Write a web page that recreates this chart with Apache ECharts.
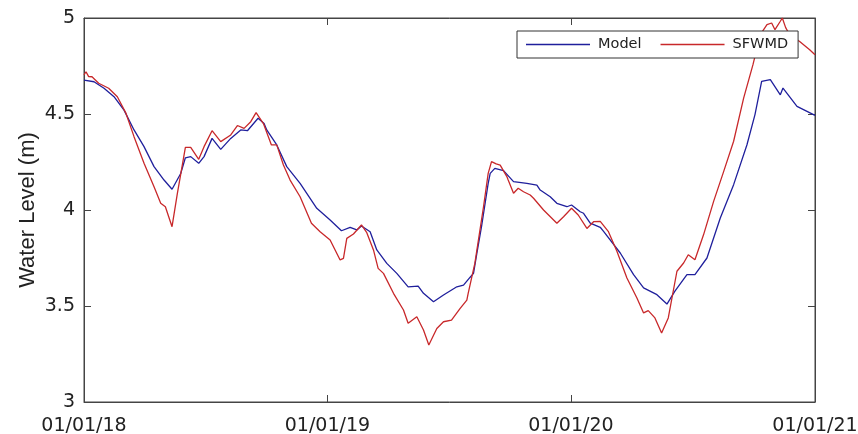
<!DOCTYPE html>
<html>
<head>
<meta charset="utf-8">
<title>Water Level: Model vs SFWMD</title>
<script src="https://cdn.jsdelivr.net/npm/echarts@6/dist/echarts.min.js"></script>
<style>
  html, body { margin: 0; padding: 0; background: #fff; }
  #chart { width: 858px; height: 434px; }
</style>
</head>
<body>
<div id="chart"></div>
<script>
// Series start date; x values below are days elapsed since this date.
const startYear = 2018;

// Simulated water level (Model)
const modelDay = [0, 15, 30, 45, 60, 75, 90, 105, 120, 132, 145, 152, 160, 172, 180, 192, 205, 220, 235, 245, 261, 270, 274, 289, 304, 324, 349, 369, 386, 399, 409, 416, 429, 439, 454, 469, 486, 501, 509, 524, 539, 559, 569, 579, 584, 589, 596, 606, 609, 616, 629, 644, 664, 679, 684, 699, 709, 724, 731, 744, 749, 759, 774, 779, 804, 824, 839, 859, 874, 886, 904, 916, 934, 954, 974, 994, 1006, 1016, 1029, 1044, 1048, 1069, 1084, 1096];
const modelLevel = [4.677, 4.668, 4.634, 4.59, 4.52, 4.417, 4.33, 4.226, 4.156, 4.108, 4.19, 4.272, 4.278, 4.243, 4.278, 4.373, 4.316, 4.373, 4.417, 4.413, 4.478, 4.45, 4.417, 4.339, 4.226, 4.139, 4.009, 3.948, 3.892, 3.91, 3.896, 3.917, 3.887, 3.792, 3.722, 3.67, 3.6, 3.604, 3.566, 3.522, 3.557, 3.6, 3.609, 3.65, 3.67, 3.774, 3.913, 4.139, 4.191, 4.217, 4.205, 4.148, 4.139, 4.13, 4.104, 4.069, 4.035, 4.017, 4.026, 3.991, 3.983, 3.932, 3.91, 3.889, 3.776, 3.663, 3.594, 3.559, 3.51, 3.577, 3.663, 3.663, 3.75, 3.958, 4.132, 4.34, 4.497, 4.67, 4.679, 4.6, 4.635, 4.54, 4.514, 4.493];

// Observed water level (SFWMD)
const obsDay = [0, 3, 7, 12, 22, 37, 50, 63, 75, 90, 105, 115, 122, 132, 140, 147, 152, 160, 172, 180, 192, 205, 220, 230, 240, 250, 258, 269, 281, 289, 299, 309, 324, 341, 354, 369, 384, 389, 394, 404, 416, 424, 434, 441, 449, 464, 479, 486, 499, 509, 517, 529, 539, 551, 564, 574, 576, 586, 599, 606, 611, 618, 624, 634, 636, 644, 651, 659, 669, 674, 689, 709, 719, 731, 741, 754, 764, 774, 786, 799, 814, 829, 839, 846, 856, 866, 876, 889, 899, 906, 916, 929, 944, 959, 974, 989, 1003, 1014, 1024, 1031, 1036, 1044, 1047, 1052, 1058, 1073, 1088, 1096];
const obsLevel = [4.703, 4.72, 4.695, 4.694, 4.66, 4.634, 4.59, 4.503, 4.382, 4.243, 4.121, 4.035, 4.017, 3.913, 4.087, 4.226, 4.326, 4.326, 4.264, 4.33, 4.413, 4.356, 4.391, 4.44, 4.425, 4.46, 4.507, 4.45, 4.339, 4.339, 4.234, 4.156, 4.069, 3.931, 3.887, 3.844, 3.74, 3.748, 3.852, 3.875, 3.922, 3.882, 3.792, 3.696, 3.67, 3.566, 3.479, 3.41, 3.444, 3.375, 3.297, 3.383, 3.418, 3.427, 3.488, 3.531, 3.566, 3.722, 4.017, 4.191, 4.252, 4.24, 4.234, 4.174, 4.156, 4.087, 4.113, 4.095, 4.078, 4.061, 4.0, 3.931, 3.965, 4.009, 3.974, 3.904, 3.939, 3.941, 3.889, 3.785, 3.646, 3.542, 3.464, 3.476, 3.438, 3.359, 3.438, 3.681, 3.724, 3.767, 3.741, 3.872, 4.045, 4.2, 4.358, 4.583, 4.757, 4.913, 4.965, 4.974, 4.939, 4.983, 5.0, 4.95, 4.913, 4.878, 4.835, 4.809];

const seriesNames = ['Model', 'SFWMD'];
const yTicks = [3, 3.5, 4, 4.5, 5];

const DAY = 86400000;
const t0 = new Date(startYear, 0, 1).getTime();
const tEnd = new Date(startYear + 3, 0, 1).getTime();
const toPoints = (days, vals) => days.map((d, i) => [t0 + d * DAY, vals[i]]);

const pad2 = n => String(n).padStart(2, '0');
const fmtDate = v => {
  const d = new Date(v);
  return pad2(d.getMonth() + 1) + '/' + pad2(d.getDate()) + '/' + pad2(d.getFullYear() % 100);
};

const labelFont = { fontFamily: 'DejaVu Sans', fontSize: 19, color: '#222' };
const frameColor = '#444';
const YEAR_MS = 365 * DAY;
const modelColor = '#1f1f9c';
const obsColor = '#c8282a';

const chart = echarts.init(document.getElementById('chart'), null, { renderer: 'canvas' });
chart.setOption({
  animation: false,
  backgroundColor: '#fff',
  grid: {
    left: 84, right: 43, top: 18, bottom: 32,
    outerBoundsMode: 'none', containLabel: false,
    show: true, borderColor: frameColor, borderWidth: 1, backgroundColor: 'transparent'
  },
  legend: {
    data: seriesNames.map(n => ({ name: n, icon: 'rect' })),
    left: 517, top: 31,
    orient: 'horizontal',
    itemWidth: 64, itemHeight: 1.3, itemGap: 19,
    padding: [5, 10, 5, 9],
    borderColor: '#333', borderWidth: 1, borderRadius: 0,
    backgroundColor: '#fff',
    textStyle: { fontFamily: 'DejaVu Sans', fontSize: 14.5, color: '#222', padding: [0, 0, 0, 3], lineHeight: 17 }
  },
  xAxis: [
    {
      type: 'time', min: t0, max: tEnd,
      minInterval: YEAR_MS, maxInterval: YEAR_MS + DAY,
      position: 'bottom',
      axisLine: { show: true, lineStyle: { color: frameColor, width: 1 } },
      axisTick: { show: true, inside: true, length: 7, lineStyle: { color: frameColor } },
      axisLabel: { ...labelFont, margin: 15, showMinLabel: true, showMaxLabel: true, hideOverlap: false, formatter: fmtDate },
      splitLine: { show: false }
    },
    {
      type: 'time', min: t0, max: tEnd,
      minInterval: YEAR_MS, maxInterval: YEAR_MS + DAY,
      position: 'top',
      axisLine: { show: true, lineStyle: { color: frameColor, width: 1 } },
      axisTick: { show: true, inside: true, length: 7, lineStyle: { color: frameColor } },
      axisLabel: { show: false },
      splitLine: { show: false }
    }
  ],
  yAxis: [
    {
      type: 'value', min: yTicks[0], max: yTicks[yTicks.length - 1], interval: 0.5,
      position: 'left',
      name: 'Water Level (m)', nameLocation: 'middle', nameGap: 45, nameMoveOverlap: false,
      nameTextStyle: { fontFamily: 'Liberation Sans', fontSize: 22, color: '#222' },
      axisLine: { show: true, lineStyle: { color: frameColor, width: 1 } },
      axisTick: { show: true, inside: true, length: 7, lineStyle: { color: frameColor } },
      axisLabel: { ...labelFont, margin: 9 },
      splitLine: { show: false }
    },
    {
      type: 'value', min: yTicks[0], max: yTicks[yTicks.length - 1], interval: 0.5,
      position: 'right',
      axisLine: { show: true, lineStyle: { color: frameColor, width: 1 } },
      axisTick: { show: true, inside: true, length: 7, lineStyle: { color: frameColor } },
      axisLabel: { show: false },
      splitLine: { show: false }
    }
  ],
  series: [
    {
      name: seriesNames[0], type: 'line', symbol: 'none', clip: true,
      data: toPoints(modelDay, modelLevel),
      lineStyle: { color: modelColor, width: 1.3 },
      itemStyle: { color: modelColor }
    },
    {
      name: seriesNames[1], type: 'line', symbol: 'none', clip: true,
      data: toPoints(obsDay, obsLevel),
      lineStyle: { color: obsColor, width: 1.3 },
      itemStyle: { color: obsColor }
    }
  ]
});
</script>
</body>
</html>
